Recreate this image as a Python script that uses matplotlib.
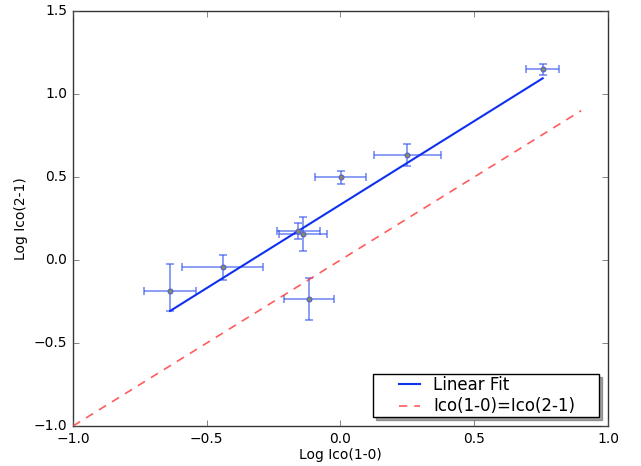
import matplotlib
matplotlib.use("Agg")
import matplotlib.pyplot as plt
from matplotlib.legend_handler import HandlerLine2D
import numpy as np

plt.style.use('classic')

# Data
x_vals = [-0.637, -0.440, -0.118, -0.158, -0.139, 0.001, 0.250, 0.756]
y_vals = [-0.187, -0.044, -0.235, 0.177, 0.158, 0.498, 0.633, 1.149]
x_err = [0.096, 0.151, 0.093, 0.080, 0.090, 0.096, 0.125, 0.062]
y_err_low = [0.12, 0.075, 0.125, 0.048, 0.103, 0.041, 0.067, 0.033]
y_err_high = [0.16, 0.075, 0.125, 0.048, 0.103, 0.041, 0.067, 0.033]

fit_slope = 1.006
fit_intercept = 0.334

one_to_one_x = [-1.0, 0.9]

x_ticks = [-1.0, -0.5, 0.0, 0.5, 1.0]
y_ticks = [-1.0, -0.5, 0.0, 0.5, 1.0, 1.5]


class ShiftedLineHandler(HandlerLine2D):
    """Draw the legend line only on the right part of the handle box."""
    def create_artists(self, legend, orig_handle, xdescent, ydescent,
                       width, height, fontsize, trans):
        arts = super().create_artists(legend, orig_handle, xdescent, ydescent,
                                      width, height, fontsize, trans)
        for a in arts:
            xd = np.asarray(a.get_xdata(), dtype=float)
            if xd.size:
                x0 = -xdescent
                a.set_xdata(x0 + 0.44 * width + (xd - x0) * 0.56)
        return arts


fig = plt.figure(figsize=(6.41, 4.66), dpi=100)
fig.patch.set_facecolor('white')
ax = fig.add_axes([0.1139, 0.0858, 0.8346, 0.8906])

ax.errorbar(x_vals, y_vals, xerr=x_err, yerr=[y_err_low, y_err_high],
            fmt='none', ecolor='#3050f0', alpha=0.65, elinewidth=1.2,
            capsize=3, capthick=1.2, zorder=2)
ax.plot(x_vals, y_vals, 'o', markersize=3.5, markerfacecolor='#8a8a60',
        markeredgecolor='#5060d0', markeredgewidth=0.8, linestyle='none', zorder=4)

xf = np.array([min(x_vals), max(x_vals)])
fit_line, = ax.plot(xf, fit_slope * xf + fit_intercept, '-', color='#1030f0',
                    lw=1.5, label='Linear Fit', zorder=3)
xo = np.array(one_to_one_x)
one_line, = ax.plot(xo, xo, '--', color='#ff4040', lw=1.2, alpha=0.85,
                    label='Ico(1-0)=Ico(2-1)', zorder=3, dashes=(6, 5))

ax.set_xlim(-1.0, 1.0)
ax.set_ylim(-1.0, 1.5)
ax.set_xticks(x_ticks)
ax.set_yticks(y_ticks)
ax.tick_params(labelsize=10, direction='in', length=4, color='#555555')
for s in ax.spines.values():
    s.set_color('#333333')
    s.set_linewidth(1.0)

ax.set_xlabel('Log Ico(1-0)', fontsize=10, labelpad=2)
ax.set_ylabel('Log Ico(2-1)', fontsize=10, labelpad=4)

handler = ShiftedLineHandler()
leg = ax.legend(handles=[fit_line, one_line],
                handler_map={fit_line: handler, one_line: handler},
                loc='lower left', mode='expand',
                bbox_to_anchor=(0.5607, 0.0217, 0.4224, 0.0964),
                borderaxespad=0.0, fontsize=12, shadow=True, frameon=True,
                handlelength=2.9, handletextpad=0.6, borderpad=0.1,
                labelspacing=0.2)
leg.get_frame().set_edgecolor('black')
leg.get_frame().set_linewidth(1.0)

fig.savefig('out.png', dpi=100, facecolor='white')
